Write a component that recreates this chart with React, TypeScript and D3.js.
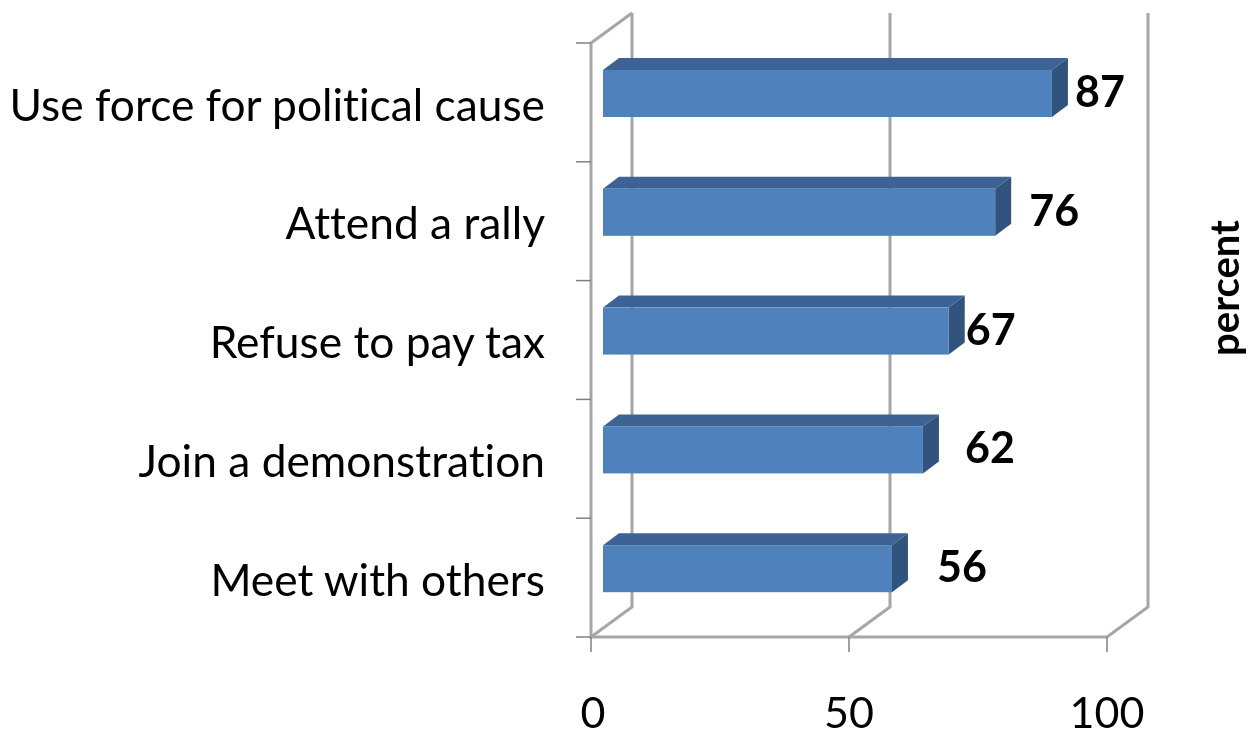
import React from 'react';
import * as d3 from 'd3';

const CATEGORIES = ['Use force for political cause', 'Attend a rally', 'Refuse to pay tax', 'Join a demonstration', 'Meet with others'];
const VALUES = [87, 76, 67, 62, 56];
const X_TICKS = [0, 50, 100];
// data labels were nudged by hand in the original, px right of the bar end
const LABEL_GAPS = [32, 43, 26, 51, 54];

const WIDTH = 1248;
const HEIGHT = 731;
const FONT = 'Lato, Carlito, sans-serif';

const WALL = { dx: 41, dy: -30 };
const BAR_DEPTH = { dx: 16, dy: -12 };
const BAR_INSET = 12;

const App: React.FC = () => {
  const x = d3.scaleLinear().domain([0, 100]).range([591, 1107]);
  const y = d3.scaleBand<string>().domain(CATEGORIES).range([43, 637]);
  const top = y.range()[0];
  const bottom = y.range()[1];
  const barH = 47;
  const barOffset = 27;
  const yTicks = [...CATEGORIES.map(c => y(c)!), bottom];
  const grid = '#a6a6a6';
  const tickC = '#808080';

  return (
    <svg width={WIDTH} height={HEIGHT} viewBox={`0 0 ${WIDTH} ${HEIGHT}`}
      style={{ position: 'absolute', left: 0, top: 0, background: '#fff', fontVariantLigatures: 'none' }} fontFamily={FONT}>
      <defs>
        <filter id="soft" filterUnits="userSpaceOnUse" x="0" y="0" width={WIDTH} height={HEIGHT}>
          <feGaussianBlur stdDeviation="0.6" />
        </filter>
      </defs>
      <g filter="url(#soft)">
        {/* back wall gridlines + floor */}
        {X_TICKS.map(t => (
          <g key={t} fill="none" stroke={grid} strokeWidth={3}>
            <path d={`M${x(t)},${bottom}L${x(t) + WALL.dx},${bottom + WALL.dy}V${top + WALL.dy}`} />
          </g>
        ))}
        {/* side wall top edge */}
        <path d={`M${x(0)},${top}L${x(0) + WALL.dx},${top + WALL.dy}`} fill="none" stroke={grid} strokeWidth={3} />
        {/* axes */}
        <path d={`M${x(0)},${top}V${bottom}H${x(100)}`} fill="none" stroke={grid} strokeWidth={3} />
        {yTicks.map((t, i) => (
          <line key={i} x1={x(0) - 15} x2={x(0)} y1={t} y2={t} stroke={tickC} strokeWidth={1.5} />
        ))}
        {X_TICKS.map(t => (
          <line key={t} x1={x(t)} x2={x(t)} y1={bottom} y2={bottom + 15} stroke={tickC} strokeWidth={1.5} />
        ))}

        {/* bars */}
        {CATEGORIES.map((c, i) => {
          const x0 = x(0) + BAR_INSET;
          const x1 = x(VALUES[i]) + BAR_INSET;
          const y0 = y(c)! + barOffset;
          const y1 = y0 + barH;
          const { dx, dy } = BAR_DEPTH;
          return (
            <g key={c}>
              <path d={`M${x0},${y0}L${x0 + dx},${y0 + dy}H${x1 + dx}L${x1},${y0}Z`} fill="#3c6494" />
              <path d={`M${x1},${y0}L${x1 + dx},${y0 + dy}V${y1 + dy}L${x1},${y1}Z`} fill="#30527d" />
              <rect x={x0} y={y0} width={x1 - x0} height={barH} fill="#4f81bd" />
            </g>
          );
        })}

        {/* category labels */}
        {CATEGORIES.map(c => (
          <text key={c} x={545} y={y(c)! + y.bandwidth() / 2 + 7} textAnchor="end" dominantBaseline="middle"
            fontSize={44.3} fill="#000">{c}</text>
        ))}

        {/* value labels */}
        {CATEGORIES.map((c, i) => (
          <text key={c} x={x(VALUES[i]) + BAR_INSET + BAR_DEPTH.dx + LABEL_GAPS[i]} y={y(c)! + 53}
            textAnchor="middle" dominantBaseline="middle" fontSize={43} fontWeight={700} fill="#000">{VALUES[i]}</text>
        ))}

        {/* x tick labels */}
        {X_TICKS.map(t => (
          <text key={t} x={x(t) + (t === 0 ? 2 : 0)} y={728} textAnchor="middle" fontSize={43} fill="#000">{t}</text>
        ))}

        <text transform="translate(1239,288) rotate(-90)" textAnchor="middle" fontSize={40} fontWeight={700} fill="#000">percent</text>
      </g>
    </svg>
  );
};

export default App;
